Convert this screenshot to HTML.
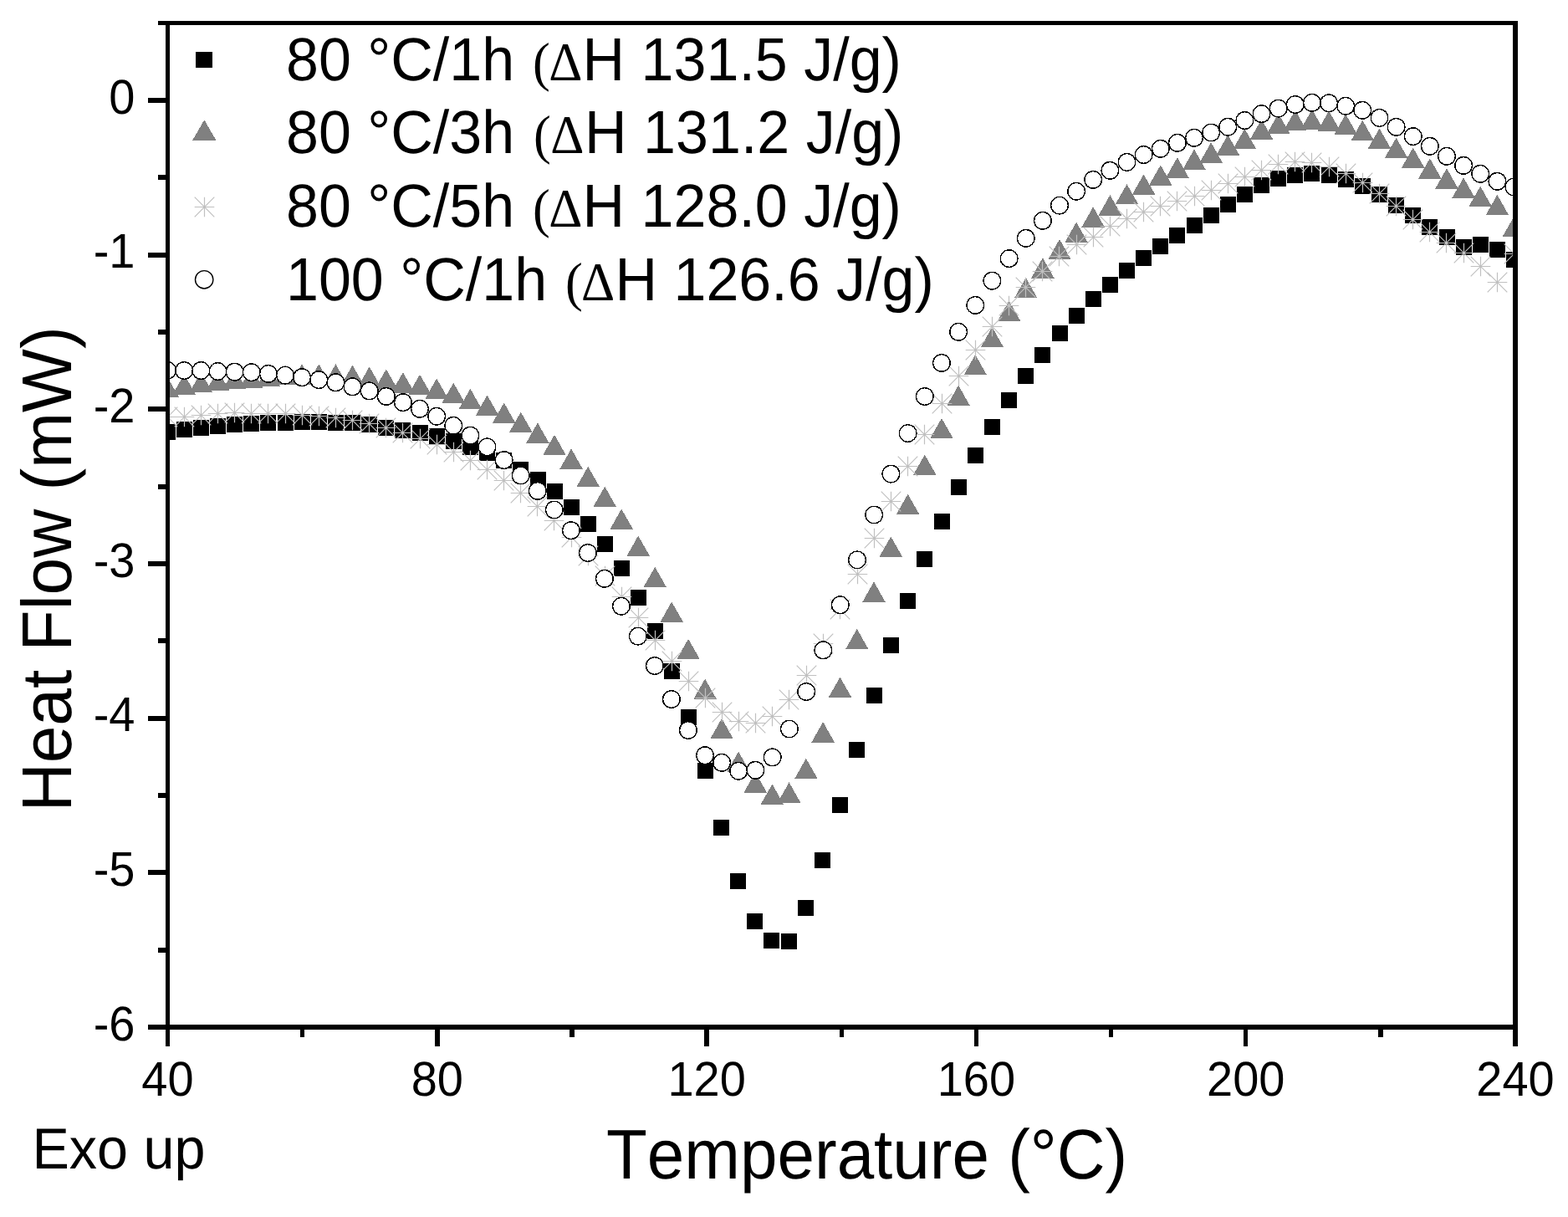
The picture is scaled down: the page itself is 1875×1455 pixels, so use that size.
<!DOCTYPE html>
<html lang="en"><head><meta charset="utf-8"><title>Heat Flow vs Temperature</title>
<style>html,body{margin:0;padding:0;background:#fff}body{width:1875px;height:1455px;overflow:hidden}svg{display:block}text{font-family:"Liberation Sans",Arial,sans-serif;fill:#000;font-kerning:none;text-rendering:geometricPrecision}.sy{font-family:"Liberation Serif","Times New Roman",serif}</style></head><body>
<svg width="1875" height="1455" viewBox="0 0 1875 1455">
<rect width="1875" height="1455" fill="#fff"/>
<defs><clipPath id="pc"><rect x="200.5" y="27.5" width="1611.5" height="1200.5"/></clipPath></defs>
<g clip-path="url(#pc)">
<g fill="#000" shape-rendering="crispEdges"><rect x="190.6" y="506.9" width="19" height="19"/><rect x="210.7" y="503.7" width="19" height="19"/><rect x="230.9" y="501.8" width="19" height="19"/><rect x="251" y="499.7" width="19" height="19"/><rect x="271.1" y="497.8" width="19" height="19"/><rect x="291.2" y="496.8" width="19" height="19"/><rect x="311.4" y="495.8" width="19" height="19"/><rect x="331.5" y="495.8" width="19" height="19"/><rect x="351.6" y="494.8" width="19" height="19"/><rect x="371.8" y="494.8" width="19" height="19"/><rect x="391.9" y="495.8" width="19" height="19"/><rect x="412" y="495.8" width="19" height="19"/><rect x="432.2" y="497.7" width="19" height="19"/><rect x="452.3" y="501.8" width="19" height="19"/><rect x="472.4" y="504.9" width="19" height="19"/><rect x="492.5" y="508.1" width="19" height="19"/><rect x="512.7" y="512.1" width="19" height="19"/><rect x="532.8" y="518" width="19" height="19"/><rect x="552.9" y="524.9" width="19" height="19"/><rect x="573.1" y="531.7" width="19" height="19"/><rect x="593.2" y="541.4" width="19" height="19"/><rect x="613.3" y="552" width="19" height="19"/><rect x="633.5" y="564.1" width="19" height="19"/><rect x="653.6" y="578.3" width="19" height="19"/><rect x="673.7" y="597.1" width="19" height="19"/><rect x="693.8" y="617" width="19" height="19"/><rect x="713.9" y="641" width="19" height="19"/><rect x="734" y="670" width="19" height="19"/><rect x="754" y="705" width="19" height="19"/><rect x="774" y="745.1" width="19" height="19"/><rect x="793.9" y="792.9" width="19" height="19"/><rect x="813.8" y="848.1" width="19" height="19"/><rect x="833.6" y="911.8" width="19" height="19"/><rect x="853.4" y="979.5" width="19" height="19"/><rect x="873.3" y="1044" width="19" height="19"/><rect x="893.2" y="1091.9" width="19" height="19"/><rect x="913.3" y="1114.9" width="19" height="19"/><rect x="933.5" y="1115.9" width="19" height="19"/><rect x="953.8" y="1076" width="19" height="19"/><rect x="974.2" y="1018.9" width="19" height="19"/><rect x="994.6" y="952.9" width="19" height="19"/><rect x="1015.1" y="886.6" width="19" height="19"/><rect x="1035.5" y="822.2" width="19" height="19"/><rect x="1055.8" y="762" width="19" height="19"/><rect x="1076.1" y="709" width="19" height="19"/><rect x="1096.3" y="658.9" width="19" height="19"/><rect x="1116.5" y="613.5" width="19" height="19"/><rect x="1136.7" y="572.9" width="19" height="19"/><rect x="1156.8" y="535" width="19" height="19"/><rect x="1177" y="500.8" width="19" height="19"/><rect x="1197.1" y="469.1" width="19" height="19"/><rect x="1217.2" y="440.1" width="19" height="19"/><rect x="1237.4" y="415" width="19" height="19"/><rect x="1257.5" y="388.5" width="19" height="19"/><rect x="1277.6" y="368" width="19" height="19"/><rect x="1297.7" y="348" width="19" height="19"/><rect x="1317.9" y="330.5" width="19" height="19"/><rect x="1338" y="314.1" width="19" height="19"/><rect x="1358.1" y="298.9" width="19" height="19"/><rect x="1378.3" y="285.1" width="19" height="19"/><rect x="1398.4" y="272.3" width="19" height="19"/><rect x="1418.5" y="260" width="19" height="19"/><rect x="1438.7" y="247.5" width="19" height="19"/><rect x="1458.8" y="234.9" width="19" height="19"/><rect x="1478.9" y="222.9" width="19" height="19"/><rect x="1499" y="212.3" width="19" height="19"/><rect x="1519.2" y="204.4" width="19" height="19"/><rect x="1539.3" y="200" width="19" height="19"/><rect x="1559.4" y="197.8" width="19" height="19"/><rect x="1579.6" y="200.3" width="19" height="19"/><rect x="1599.7" y="205.1" width="19" height="19"/><rect x="1619.8" y="213.1" width="19" height="19"/><rect x="1640" y="223" width="19" height="19"/><rect x="1660.1" y="235.5" width="19" height="19"/><rect x="1680.2" y="248.1" width="19" height="19"/><rect x="1700.3" y="262.4" width="19" height="19"/><rect x="1720.5" y="274.4" width="19" height="19"/><rect x="1740.6" y="286" width="19" height="19"/><rect x="1760.7" y="282.9" width="19" height="19"/><rect x="1780.9" y="288.9" width="19" height="19"/><rect x="1801" y="301.4" width="19" height="19"/></g>
<g fill="#808080" shape-rendering="crispEdges"><path d="M200.1 450.5L213.9 474.9H186.3Z"/><path d="M220.2 447.3L234 471.7H206.4Z"/><path d="M240.4 444.7L254.2 469.1H226.6Z"/><path d="M260.5 442.5L274.3 466.9H246.7Z"/><path d="M280.6 440.5L294.4 464.9H266.8Z"/><path d="M300.7 439.1L314.5 463.5H286.9Z"/><path d="M320.9 437.4L334.7 461.8H307.1Z"/><path d="M341 435.7L354.8 460.1H327.2Z"/><path d="M361.1 435.3L374.9 459.7H347.3Z"/><path d="M381.3 435.3L395.1 459.7H367.5Z"/><path d="M401.4 435.3L415.2 459.7H387.6Z"/><path d="M421.5 436.5L435.3 460.9H407.7Z"/><path d="M441.7 438.4L455.5 462.8H427.9Z"/><path d="M461.8 441.3L475.6 465.7H448Z"/><path d="M481.9 445.2L495.7 469.6H468.1Z"/><path d="M502 447.7L515.8 472.1H488.2Z"/><path d="M522.2 452.4L536 476.8H508.4Z"/><path d="M542.3 457.6L556.1 482H528.5Z"/><path d="M562.4 464.7L576.2 489.1H548.6Z"/><path d="M582.6 472.4L596.4 496.8H568.8Z"/><path d="M602.7 481.5L616.5 505.9H588.9Z"/><path d="M622.8 492.5L636.6 516.9H609Z"/><path d="M642.9 505.4L656.7 529.8H629.1Z"/><path d="M663 519.7L676.8 544.1H649.2Z"/><path d="M683.1 536.4L696.9 560.8H669.3Z"/><path d="M703.2 557.7L717 582.1H689.4Z"/><path d="M723.2 581.6L737 606H709.4Z"/><path d="M743.2 608.4L757 632.8H729.4Z"/><path d="M763.2 640.5L777 664.9H749.4Z"/><path d="M783.2 677.8L797 702.2H769.4Z"/><path d="M803.2 719.4L817 743.8H789.4Z"/><path d="M823.1 763.8L836.9 788.2H809.3Z"/><path d="M843.1 811.5L856.9 835.9H829.3Z"/><path d="M863.1 858.9L876.9 883.3H849.3Z"/><path d="M883.1 898.5L896.9 922.9H869.3Z"/><path d="M903.2 923.2L917 947.6H889.5Z"/><path d="M923.4 937.4L937.2 961.8H909.6Z"/><path d="M943.6 935.3L957.4 959.7H929.8Z"/><path d="M963.9 906.7L977.7 931.1H950.1Z"/><path d="M984.2 863.1L998 887.5H970.4Z"/><path d="M1004.5 809.5L1018.3 833.9H990.7Z"/><path d="M1024.8 751.9L1038.6 776.3H1011Z"/><path d="M1045 695.5L1058.8 719.9H1031.2Z"/><path d="M1065.3 641.4L1079.1 665.8H1051.5Z"/><path d="M1085.6 590.6L1099.4 615H1071.8Z"/><path d="M1105.8 543.5L1119.6 567.9H1092Z"/><path d="M1126 499.9L1139.8 524.3H1112.2Z"/><path d="M1146.1 460.7L1159.9 485.1H1132.3Z"/><path d="M1166.3 424L1180.1 448.4H1152.5Z"/><path d="M1186.4 391L1200.2 415.4H1172.6Z"/><path d="M1206.6 359.5L1220.4 383.9H1192.8Z"/><path d="M1226.7 332L1240.5 356.4H1212.9Z"/><path d="M1246.9 308.2L1260.7 332.6H1233.1Z"/><path d="M1267 286L1280.8 310.4H1253.2Z"/><path d="M1287.1 265.6L1300.9 290H1273.3Z"/><path d="M1307.2 247.3L1321 271.7H1293.4Z"/><path d="M1327.4 233.1L1341.2 257.5H1313.6Z"/><path d="M1347.5 220L1361.3 244.4H1333.7Z"/><path d="M1367.6 208.4L1381.4 232.8H1353.8Z"/><path d="M1387.8 197.3L1401.6 221.7H1374Z"/><path d="M1407.9 188.2L1421.7 212.6H1394.1Z"/><path d="M1428 178.5L1441.8 202.9H1414.2Z"/><path d="M1448.2 170.3L1462 194.7H1434.4Z"/><path d="M1468.3 161.1L1482.1 185.5H1454.5Z"/><path d="M1488.4 153.8L1502.2 178.2H1474.6Z"/><path d="M1508.5 142.5L1522.3 166.9H1494.7Z"/><path d="M1528.7 135.6L1542.5 160H1514.9Z"/><path d="M1548.8 131.7L1562.6 156.1H1535Z"/><path d="M1568.9 130.8L1582.7 155.2H1555.1Z"/><path d="M1589.1 132.5L1602.9 156.9H1575.3Z"/><path d="M1609.2 136.4L1623 160.8H1595.4Z"/><path d="M1629.3 143.8L1643.1 168.2H1615.5Z"/><path d="M1649.5 153.5L1663.3 177.9H1635.7Z"/><path d="M1669.6 164.6L1683.4 189H1655.8Z"/><path d="M1689.7 176.5L1703.5 200.9H1675.9Z"/><path d="M1709.8 189.3L1723.6 213.7H1696Z"/><path d="M1730 201.3L1743.8 225.7H1716.2Z"/><path d="M1750.1 212.4L1763.9 236.8H1736.3Z"/><path d="M1770.2 222.6L1784 247H1756.4Z"/><path d="M1790.4 232.9L1804.2 257.3H1776.6Z"/><path d="M1810.5 258.5L1824.3 282.9H1796.7Z"/></g>
<g fill="none" stroke="#c0c0c0" stroke-width="1.2"><path d="M188.7 498.5H212.3M200.5 486.7V510.3M188.7 486.7L212.3 510.3M188.7 510.3L212.3 486.7"/><path d="M208.7 498.5H232.3M220.5 486.7V510.3M208.7 486.7L232.3 510.3M208.7 510.3L232.3 486.7"/><path d="M228.7 496.5H252.3M240.5 484.7V508.3M228.7 484.7L252.3 508.3M228.7 508.3L252.3 484.7"/><path d="M248.7 494.5H272.3M260.5 482.7V506.3M248.7 482.7L272.3 506.3M248.7 506.3L272.3 482.7"/><path d="M268.7 493.5H292.3M280.5 481.7V505.3M268.7 481.7L292.3 505.3M268.7 505.3L292.3 481.7"/><path d="M288.7 494.5H312.3M300.5 482.7V506.3M288.7 482.7L312.3 506.3M288.7 506.3L312.3 482.7"/><path d="M308.7 494.5H332.3M320.5 482.7V506.3M308.7 482.7L332.3 506.3M308.7 506.3L332.3 482.7"/><path d="M329.7 494.5H353.3M341.5 482.7V506.3M329.7 482.7L353.3 506.3M329.7 506.3L353.3 482.7"/><path d="M349.7 496.5H373.3M361.5 484.7V508.3M349.7 484.7L373.3 508.3M349.7 508.3L373.3 484.7"/><path d="M369.7 497.5H393.3M381.5 485.7V509.3M369.7 485.7L393.3 509.3M369.7 509.3L393.3 485.7"/><path d="M389.7 499.5H413.3M401.5 487.7V511.3M389.7 487.7L413.3 511.3M389.7 511.3L413.3 487.7"/><path d="M409.7 502.5H433.3M421.5 490.7V514.3M409.7 490.7L433.3 514.3M409.7 514.3L433.3 490.7"/><path d="M429.7 506.5H453.3M441.5 494.7V518.3M429.7 494.7L453.3 518.3M429.7 518.3L453.3 494.7"/><path d="M449.7 511.5H473.3M461.5 499.7V523.3M449.7 499.7L473.3 523.3M449.7 523.3L473.3 499.7"/><path d="M469.7 517.5H493.3M481.5 505.7V529.3M469.7 505.7L493.3 529.3M469.7 529.3L493.3 505.7"/><path d="M490.7 524.5H514.3M502.5 512.7V536.3M490.7 512.7L514.3 536.3M490.7 536.3L514.3 512.7"/><path d="M510.7 531.5H534.3M522.5 519.7V543.3M510.7 519.7L534.3 543.3M510.7 543.3L534.3 519.7"/><path d="M530.7 540.5H554.3M542.5 528.7V552.3M530.7 528.7L554.3 552.3M530.7 552.3L554.3 528.7"/><path d="M550.7 550.5H574.3M562.5 538.7V562.3M550.7 538.7L574.3 562.3M550.7 562.3L574.3 538.7"/><path d="M570.7 561.5H594.3M582.5 549.7V573.3M570.7 549.7L594.3 573.3M570.7 573.3L594.3 549.7"/><path d="M590.7 574.5H614.3M602.5 562.7V586.3M590.7 562.7L614.3 586.3M590.7 586.3L614.3 562.7"/><path d="M610.7 589.5H634.3M622.5 577.7V601.3M610.7 577.7L634.3 601.3M610.7 601.3L634.3 577.7"/><path d="M630.7 605.5H654.3M642.5 593.7V617.3M630.7 593.7L654.3 617.3M630.7 617.3L654.3 593.7"/><path d="M650.7 622.5H674.3M662.5 610.7V634.3M650.7 610.7L674.3 634.3M650.7 634.3L674.3 610.7"/><path d="M671.7 642.5H695.3M683.5 630.7V654.3M671.7 630.7L695.3 654.3M671.7 654.3L695.3 630.7"/><path d="M691.7 664.5H715.3M703.5 652.7V676.3M691.7 652.7L715.3 676.3M691.7 676.3L715.3 652.7"/><path d="M711.7 688.5H735.3M723.5 676.7V700.3M711.7 676.7L735.3 700.3M711.7 700.3L735.3 676.7"/><path d="M731.7 713.5H755.3M743.5 701.7V725.3M731.7 701.7L755.3 725.3M731.7 725.3L755.3 701.7"/><path d="M751.7 738.5H775.3M763.5 726.7V750.3M751.7 726.7L775.3 750.3M751.7 750.3L775.3 726.7"/><path d="M771.7 765.5H795.3M783.5 753.7V777.3M771.7 753.7L795.3 777.3M771.7 777.3L795.3 753.7"/><path d="M791.7 790.5H815.3M803.5 778.7V802.3M791.7 778.7L815.3 802.3M791.7 802.3L815.3 778.7"/><path d="M811.7 814.5H835.3M823.5 802.7V826.3M811.7 802.7L835.3 826.3M811.7 826.3L835.3 802.7"/><path d="M831.7 834.5H855.3M843.5 822.7V846.3M831.7 822.7L855.3 846.3M831.7 846.3L855.3 822.7"/><path d="M851.7 851.5H875.3M863.5 839.7V863.3M851.7 839.7L875.3 863.3M851.7 863.3L875.3 839.7"/><path d="M871.7 862.5H895.3M883.5 850.7V874.3M871.7 850.7L895.3 874.3M871.7 874.3L895.3 850.7"/><path d="M891.7 864.5H915.3M903.5 852.7V876.3M891.7 852.7L915.3 876.3M891.7 876.3L915.3 852.7"/><path d="M911.7 856.5H935.3M923.5 844.7V868.3M911.7 844.7L935.3 868.3M911.7 868.3L935.3 844.7"/><path d="M931.7 836.5H955.3M943.5 824.7V848.3M931.7 824.7L955.3 848.3M931.7 848.3L955.3 824.7"/><path d="M952.7 807.5H976.3M964.5 795.7V819.3M952.7 795.7L976.3 819.3M952.7 819.3L976.3 795.7"/><path d="M972.7 769.5H996.3M984.5 757.7V781.3M972.7 757.7L996.3 781.3M972.7 781.3L996.3 757.7"/><path d="M992.7 728.5H1016.3M1004.5 716.7V740.3M992.7 716.7L1016.3 740.3M992.7 740.3L1016.3 716.7"/><path d="M1013.7 686.5H1037.3M1025.5 674.7V698.3M1013.7 674.7L1037.3 698.3M1013.7 698.3L1037.3 674.7"/><path d="M1033.7 643.5H1057.3M1045.5 631.7V655.3M1033.7 631.7L1057.3 655.3M1033.7 655.3L1057.3 631.7"/><path d="M1053.7 599.5H1077.3M1065.5 587.7V611.3M1053.7 587.7L1077.3 611.3M1053.7 611.3L1077.3 587.7"/><path d="M1073.7 557.5H1097.3M1085.5 545.7V569.3M1073.7 545.7L1097.3 569.3M1073.7 569.3L1097.3 545.7"/><path d="M1093.7 519.5H1117.3M1105.5 507.7V531.3M1093.7 507.7L1117.3 531.3M1093.7 531.3L1117.3 507.7"/><path d="M1114.7 482.5H1138.3M1126.5 470.7V494.3M1114.7 470.7L1138.3 494.3M1114.7 494.3L1138.3 470.7"/><path d="M1134.7 449.5H1158.3M1146.5 437.7V461.3M1134.7 437.7L1158.3 461.3M1134.7 461.3L1158.3 437.7"/><path d="M1154.7 418.5H1178.3M1166.5 406.7V430.3M1154.7 406.7L1178.3 430.3M1154.7 430.3L1178.3 406.7"/><path d="M1174.7 390.5H1198.3M1186.5 378.7V402.3M1174.7 378.7L1198.3 402.3M1174.7 402.3L1198.3 378.7"/><path d="M1194.7 365.5H1218.3M1206.5 353.7V377.3M1194.7 353.7L1218.3 377.3M1194.7 377.3L1218.3 353.7"/><path d="M1214.7 343.5H1238.3M1226.5 331.7V355.3M1214.7 331.7L1238.3 355.3M1214.7 355.3L1238.3 331.7"/><path d="M1234.7 324.5H1258.3M1246.5 312.7V336.3M1234.7 312.7L1258.3 336.3M1234.7 336.3L1258.3 312.7"/><path d="M1254.7 306.5H1278.3M1266.5 294.7V318.3M1254.7 294.7L1278.3 318.3M1254.7 318.3L1278.3 294.7"/><path d="M1275.7 292.5H1299.3M1287.5 280.7V304.3M1275.7 280.7L1299.3 304.3M1275.7 304.3L1299.3 280.7"/><path d="M1295.7 283.5H1319.3M1307.5 271.7V295.3M1295.7 271.7L1319.3 295.3M1295.7 295.3L1319.3 271.7"/><path d="M1315.7 270.5H1339.3M1327.5 258.7V282.3M1315.7 258.7L1339.3 282.3M1315.7 282.3L1339.3 258.7"/><path d="M1335.7 261.5H1359.3M1347.5 249.7V273.3M1335.7 249.7L1359.3 273.3M1335.7 273.3L1359.3 249.7"/><path d="M1355.7 253.5H1379.3M1367.5 241.7V265.3M1355.7 241.7L1379.3 265.3M1355.7 265.3L1379.3 241.7"/><path d="M1375.7 246.5H1399.3M1387.5 234.7V258.3M1375.7 234.7L1399.3 258.3M1375.7 258.3L1399.3 234.7"/><path d="M1395.7 240.5H1419.3M1407.5 228.7V252.3M1395.7 228.7L1419.3 252.3M1395.7 252.3L1419.3 228.7"/><path d="M1416.7 234.5H1440.3M1428.5 222.7V246.3M1416.7 222.7L1440.3 246.3M1416.7 246.3L1440.3 222.7"/><path d="M1436.7 227.5H1460.3M1448.5 215.7V239.3M1436.7 215.7L1460.3 239.3M1436.7 239.3L1460.3 215.7"/><path d="M1456.7 219.5H1480.3M1468.5 207.7V231.3M1456.7 207.7L1480.3 231.3M1456.7 231.3L1480.3 207.7"/><path d="M1476.7 211.5H1500.3M1488.5 199.7V223.3M1476.7 199.7L1500.3 223.3M1476.7 223.3L1500.3 199.7"/><path d="M1496.7 203.5H1520.3M1508.5 191.7V215.3M1496.7 191.7L1520.3 215.3M1496.7 215.3L1520.3 191.7"/><path d="M1516.7 196.5H1540.3M1528.5 184.7V208.3M1516.7 184.7L1540.3 208.3M1516.7 208.3L1540.3 184.7"/><path d="M1536.7 193.5H1560.3M1548.5 181.7V205.3M1536.7 181.7L1560.3 205.3M1536.7 205.3L1560.3 181.7"/><path d="M1556.7 194.5H1580.3M1568.5 182.7V206.3M1556.7 182.7L1580.3 206.3M1556.7 206.3L1580.3 182.7"/><path d="M1577.7 199.5H1601.3M1589.5 187.7V211.3M1577.7 187.7L1601.3 211.3M1577.7 211.3L1601.3 187.7"/><path d="M1597.7 207.5H1621.3M1609.5 195.7V219.3M1597.7 195.7L1621.3 219.3M1597.7 219.3L1621.3 195.7"/><path d="M1617.7 218.5H1641.3M1629.5 206.7V230.3M1617.7 206.7L1641.3 230.3M1617.7 230.3L1641.3 206.7"/><path d="M1637.7 231.5H1661.3M1649.5 219.7V243.3M1637.7 219.7L1661.3 243.3M1637.7 243.3L1661.3 219.7"/><path d="M1657.7 246.5H1681.3M1669.5 234.7V258.3M1657.7 234.7L1681.3 258.3M1657.7 258.3L1681.3 234.7"/><path d="M1677.7 262.5H1701.3M1689.5 250.7V274.3M1677.7 250.7L1701.3 274.3M1677.7 274.3L1701.3 250.7"/><path d="M1697.7 277.5H1721.3M1709.5 265.7V289.3M1697.7 265.7L1721.3 289.3M1697.7 289.3L1721.3 265.7"/><path d="M1717.7 290.5H1741.3M1729.5 278.7V302.3M1717.7 278.7L1741.3 302.3M1717.7 302.3L1741.3 278.7"/><path d="M1738.7 302.5H1762.3M1750.5 290.7V314.3M1738.7 290.7L1762.3 314.3M1738.7 314.3L1762.3 290.7"/><path d="M1758.7 318.5H1782.3M1770.5 306.7V330.3M1758.7 306.7L1782.3 330.3M1758.7 330.3L1782.3 306.7"/><path d="M1778.7 337.5H1802.3M1790.5 325.7V349.3M1778.7 325.7L1802.3 349.3M1778.7 349.3L1802.3 325.7"/><path d="M1798.7 303.5H1822.3M1810.5 291.7V315.3M1798.7 291.7L1822.3 315.3M1798.7 315.3L1822.3 291.7"/></g>
<g fill="#fff" stroke="#000" stroke-width="1.4" shape-rendering="crispEdges"><circle cx="200.1" cy="442.7" r="10.3"/><circle cx="220.2" cy="443" r="10.3"/><circle cx="240.4" cy="443" r="10.3"/><circle cx="260.5" cy="444" r="10.3"/><circle cx="280.6" cy="444.7" r="10.3"/><circle cx="300.7" cy="445.2" r="10.3"/><circle cx="320.9" cy="446.9" r="10.3"/><circle cx="341" cy="448.6" r="10.3"/><circle cx="361.1" cy="451.2" r="10.3"/><circle cx="381.3" cy="454.1" r="10.3"/><circle cx="401.4" cy="457.3" r="10.3"/><circle cx="421.5" cy="462.3" r="10.3"/><circle cx="441.7" cy="467.4" r="10.3"/><circle cx="461.8" cy="473.9" r="10.3"/><circle cx="481.9" cy="481.1" r="10.3"/><circle cx="502" cy="488.8" r="10.3"/><circle cx="522.2" cy="497.7" r="10.3"/><circle cx="542.3" cy="508.8" r="10.3"/><circle cx="562.4" cy="520.7" r="10.3"/><circle cx="582.5" cy="534.4" r="10.3"/><circle cx="602.6" cy="550.1" r="10.3"/><circle cx="622.7" cy="568.5" r="10.3"/><circle cx="642.8" cy="586.9" r="10.3"/><circle cx="662.8" cy="609.5" r="10.3"/><circle cx="682.9" cy="634.2" r="10.3"/><circle cx="702.9" cy="661" r="10.3"/><circle cx="722.9" cy="691.8" r="10.3"/><circle cx="742.9" cy="724.7" r="10.3"/><circle cx="762.9" cy="760.6" r="10.3"/><circle cx="782.9" cy="796" r="10.3"/><circle cx="802.9" cy="836" r="10.3"/><circle cx="822.9" cy="873" r="10.3"/><circle cx="843" cy="903.2" r="10.3"/><circle cx="863.1" cy="911.8" r="10.3"/><circle cx="883.2" cy="921.7" r="10.3"/><circle cx="903.4" cy="920.8" r="10.3"/><circle cx="923.7" cy="905.4" r="10.3"/><circle cx="943.9" cy="871.5" r="10.3"/><circle cx="964.2" cy="827" r="10.3"/><circle cx="984.4" cy="777.3" r="10.3"/><circle cx="1004.7" cy="723.3" r="10.3"/><circle cx="1025" cy="669.4" r="10.3"/><circle cx="1045.2" cy="615.5" r="10.3"/><circle cx="1065.4" cy="566.6" r="10.3"/><circle cx="1085.6" cy="518" r="10.3"/><circle cx="1105.8" cy="474" r="10.3"/><circle cx="1126" cy="434" r="10.3"/><circle cx="1146.1" cy="396.8" r="10.3"/><circle cx="1166.3" cy="364.9" r="10.3"/><circle cx="1186.4" cy="335.7" r="10.3"/><circle cx="1206.6" cy="309.1" r="10.3"/><circle cx="1226.7" cy="284.8" r="10.3"/><circle cx="1246.9" cy="263.8" r="10.3"/><circle cx="1267" cy="245.6" r="10.3"/><circle cx="1287.1" cy="228.7" r="10.3"/><circle cx="1307.2" cy="214.9" r="10.3"/><circle cx="1327.4" cy="203.8" r="10.3"/><circle cx="1347.5" cy="193.9" r="10.3"/><circle cx="1367.6" cy="185" r="10.3"/><circle cx="1387.8" cy="177.8" r="10.3"/><circle cx="1407.9" cy="170.8" r="10.3"/><circle cx="1428" cy="164.8" r="10.3"/><circle cx="1448.2" cy="158.5" r="10.3"/><circle cx="1468.3" cy="151.7" r="10.3"/><circle cx="1488.4" cy="144" r="10.3"/><circle cx="1508.5" cy="136.1" r="10.3"/><circle cx="1528.7" cy="129.6" r="10.3"/><circle cx="1548.8" cy="125" r="10.3"/><circle cx="1568.9" cy="122.8" r="10.3"/><circle cx="1589.1" cy="123.3" r="10.3"/><circle cx="1609.2" cy="126.7" r="10.3"/><circle cx="1629.3" cy="131.8" r="10.3"/><circle cx="1649.5" cy="140.9" r="10.3"/><circle cx="1669.6" cy="151.8" r="10.3"/><circle cx="1689.7" cy="163.1" r="10.3"/><circle cx="1709.8" cy="174.8" r="10.3"/><circle cx="1730" cy="186.8" r="10.3"/><circle cx="1750.1" cy="197.9" r="10.3"/><circle cx="1770.2" cy="207.8" r="10.3"/><circle cx="1790.4" cy="216.8" r="10.3"/><circle cx="1810.5" cy="223.5" r="10.3"/></g>
</g>
<g fill="#000" shape-rendering="crispEdges"><rect x="198" y="25" width="5" height="1226"/><rect x="1809" y="25" width="6" height="1226"/><rect x="189" y="25" width="1626" height="5"/><rect x="177" y="1225" width="1638" height="6"/><rect x="177" y="117" width="21" height="6"/><rect x="189" y="209" width="9" height="6"/><rect x="177" y="302" width="21" height="6"/><rect x="189" y="394" width="9" height="6"/><rect x="177" y="486" width="21" height="6"/><rect x="189" y="579" width="9" height="6"/><rect x="177" y="671" width="21" height="6"/><rect x="189" y="763" width="9" height="6"/><rect x="177" y="856" width="21" height="6"/><rect x="189" y="948" width="9" height="6"/><rect x="177" y="1040" width="21" height="6"/><rect x="189" y="1133" width="9" height="6"/><rect x="359" y="1231" width="5" height="9"/><rect x="520" y="1231" width="6" height="20"/><rect x="681" y="1231" width="6" height="9"/><rect x="842" y="1231" width="6" height="20"/><rect x="1004" y="1231" width="5" height="9"/><rect x="1165" y="1231" width="5" height="20"/><rect x="1326" y="1231" width="5" height="9"/><rect x="1487" y="1231" width="5" height="20"/><rect x="1648" y="1231" width="6" height="9"/></g>
<text transform="translate(161.5 135.7) scale(1 1.04)" font-size="56" text-anchor="end">0</text>
<text transform="translate(161.5 320.4) scale(1 1.04)" font-size="56" text-anchor="end">-1</text>
<text transform="translate(161.5 505) scale(1 1.04)" font-size="56" text-anchor="end">-2</text>
<text transform="translate(161.5 689.7) scale(1 1.04)" font-size="56" text-anchor="end">-3</text>
<text transform="translate(161.5 874.4) scale(1 1.04)" font-size="56" text-anchor="end">-4</text>
<text transform="translate(161.5 1059) scale(1 1.04)" font-size="56" text-anchor="end">-5</text>
<text transform="translate(161.5 1243.7) scale(1 1.04)" font-size="56" text-anchor="end">-6</text>
<text transform="translate(200.5 1310) scale(1 1.04)" font-size="56" text-anchor="middle">40</text>
<text transform="translate(522.8 1310) scale(1 1.04)" font-size="56" text-anchor="middle">80</text>
<text transform="translate(845.1 1310) scale(1 1.04)" font-size="56" text-anchor="middle">120</text>
<text transform="translate(1167.4 1310) scale(1 1.04)" font-size="56" text-anchor="middle">160</text>
<text transform="translate(1489.7 1310) scale(1 1.04)" font-size="56" text-anchor="middle">200</text>
<text transform="translate(1812 1310) scale(1 1.04)" font-size="56" text-anchor="middle">240</text>
<text transform="translate(725 1408.8) scale(1 1.05)" font-size="80">Temperature (°C)</text>
<text transform="translate(85 970.3) rotate(-90) scale(1 1.05)" font-size="80.3">Heat Flow (mW)</text>
<text transform="translate(38.4 1396.9) scale(1 1.04)" font-size="66.5">Exo up</text>
<text transform="translate(342 95.7) scale(1 1.04)" font-size="70">80 °C/1h <tspan class="sy" font-size="62.5" x="295.1">(</tspan><tspan class="sy" font-size="62.5" x="314.2">Δ</tspan><tspan x="354.6">H 131.5 J/g)</tspan></text>
<text transform="translate(342 182.7) scale(1 1.04)" font-size="70">80 °C/3h <tspan class="sy" font-size="62.5" x="296.1">(</tspan><tspan class="sy" font-size="62.5" x="316.2">Δ</tspan><tspan x="357.1">H 131.2 J/g)</tspan></text>
<text transform="translate(342 270.6) scale(1 1.04)" font-size="70">80 °C/5h <tspan class="sy" font-size="62.5" x="295.1">(</tspan><tspan class="sy" font-size="62.5" x="314.2">Δ</tspan><tspan x="354.6">H 128.0 J/g)</tspan></text>
<text transform="translate(342 358.5) scale(1 1.04)" font-size="70">100 °C/1h <tspan class="sy" font-size="62.5" x="334">(</tspan><tspan class="sy" font-size="62.5" x="353.1">Δ</tspan><tspan x="393.5">H 126.6 J/g)</tspan></text>
<g fill="#000" shape-rendering="crispEdges"><rect x="234" y="62" width="20" height="19"/></g>
<g fill="#808080" shape-rendering="crispEdges"><path d="M244.3 143.3L258.6 168.1H230Z"/></g>
<g fill="none" stroke="#c0c0c0" stroke-width="1.2"><path d="M232.7 247.5H256.3M244.5 235.7V259.3M232.7 235.7L256.3 259.3M232.7 259.3L256.3 235.7"/></g>
<g fill="#fff" stroke="#000" stroke-width="1.4"><circle cx="244.2" cy="334.3" r="10.7"/></g>
</svg></body></html>
